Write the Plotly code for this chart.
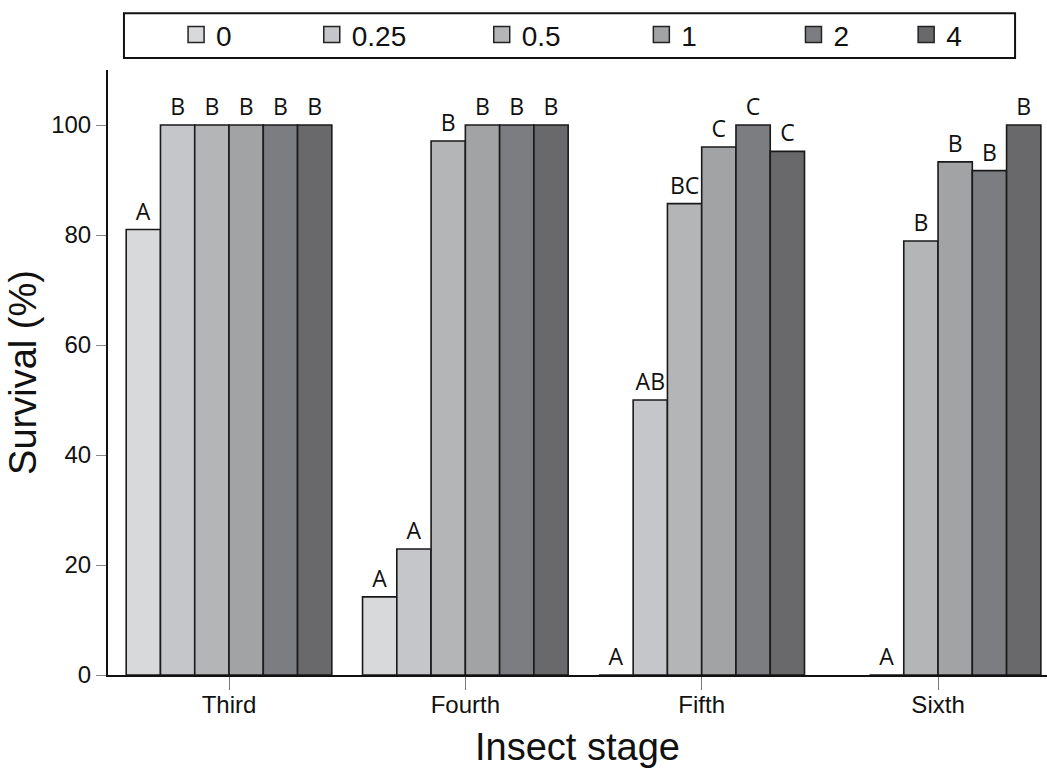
import plotly.graph_objects as go

# Insect stages (x categories) and treatment concentrations (series)
stages = ["Third", "Fourth", "Fifth", "Sixth"]
doses = ["0", "0.25", "0.5", "1", "2", "4"]

# Survival (%) per dose, one value per stage (None = not tested)
surv_0 = [81, 14.2, 0, None]
surv_025 = [100, 22.9, 50, 0]
surv_05 = [100, 97.1, 85.7, 78.9]
surv_1 = [100, 100, 96, 93.3]
surv_2 = [100, 100, 100, 91.7]
surv_4 = [100, 100, 95.2, 100]

# Significance letters per dose, one per stage
let_0 = ["A", "A", "A", ""]
let_025 = ["B", "A", "AB", "A"]
let_05 = ["B", "B", "BC", "B"]
let_1 = ["B", "B", "C", "B"]
let_2 = ["B", "B", "C", "B"]
let_4 = ["B", "B", "C", "B"]

series = [surv_0, surv_025, surv_05, surv_1, surv_2, surv_4]
letters = [let_0, let_025, let_05, let_1, let_2, let_4]
colors = ["#d8d9db", "#c5c6c9", "#b4b5b7", "#a2a3a5", "#7c7d81", "#69696b"]

# Legend anchor positions (paper x) for each dose entry
legend_x = [0.0725, 0.217, 0.398, 0.568, 0.730, 0.850]

AXIS_FONT = "Liberation Sans, Arial, Helvetica, sans-serif"
LETTER_FONT = "Open Sans, DejaVu Sans, sans-serif"

fig = go.Figure()
for i, (dose, vals, labs, col) in enumerate(zip(doses, series, letters, colors)):
    lg = "legend" if i == 0 else f"legend{i + 1}"
    fig.add_trace(go.Bar(
        name=dose, x=stages, y=vals,
        text=labs, textposition="outside", textangle=0,
        constraintext="none", cliponaxis=False,
        textfont=dict(family=LETTER_FONT, size=23, color="#111111"),
        marker=dict(color=col, line=dict(color="#1a1a1a", width=1.6)),
        showlegend=False, legendgroup=dose,
    ))
    # legend swatch
    fig.add_trace(go.Scatter(
        name=dose, x=[None], y=[None], mode="markers",
        marker=dict(symbol="square", size=16, color=col,
                    line=dict(color="#222222", width=1.5)),
        legend=lg, legendgroup=dose, showlegend=True,
    ))

layout_legends = {}
for i, lx in enumerate(legend_x):
    key = "legend" if i == 0 else f"legend{i + 1}"
    layout_legends[key] = dict(
        x=lx, y=1.058, xanchor="left", yanchor="middle",
        bgcolor="rgba(0,0,0,0)", borderwidth=0,
        font=dict(family=AXIS_FONT, size=28, color="#111111"),
        itemclick=False, itemdoubleclick=False,
    )

fig.update_layout(
    width=1047, height=768,
    margin=dict(l=108, r=0, t=70, b=93),
    paper_bgcolor="white", plot_bgcolor="white",
    barmode="group", bargap=0.13, bargroupgap=0,
    font=dict(family=AXIS_FONT, color="#111111"),
    xaxis=dict(
        type="category", range=[-0.512, 3.461],
        showline=True, linecolor="#111111", linewidth=2,
        ticks="outside", ticklen=13, tickwidth=1.3, tickcolor="#777777",
        ticklabelstandoff=-6,
        tickfont=dict(family=AXIS_FONT, size=24, color="#111111"),
        showgrid=False, zeroline=False,
        title=dict(text="Insect stage", standoff=22,
                   font=dict(family=AXIS_FONT, size=38, color="#111111")),
    ),
    yaxis=dict(
        range=[0, 110], tickvals=[0, 20, 40, 60, 80, 100],
        showline=True, linecolor="#111111", linewidth=2,
        ticks="outside", ticklen=10, tickwidth=1.3, tickcolor="#888888",
        tickfont=dict(family=AXIS_FONT, size=24, color="#111111"),
        showgrid=False, zeroline=False,
        title=dict(text="Survival (%)", standoff=3,
                   font=dict(family=AXIS_FONT, size=38, color="#111111")),
    ),
    shapes=[dict(type="rect", xref="paper", yref="paper",
                 x0=0.017, x1=0.966, y0=1.0198, y1=1.094,
                 line=dict(color="#111111", width=2), fillcolor="rgba(0,0,0,0)")],
    **layout_legends,
)

fig.write_html("out.html")
